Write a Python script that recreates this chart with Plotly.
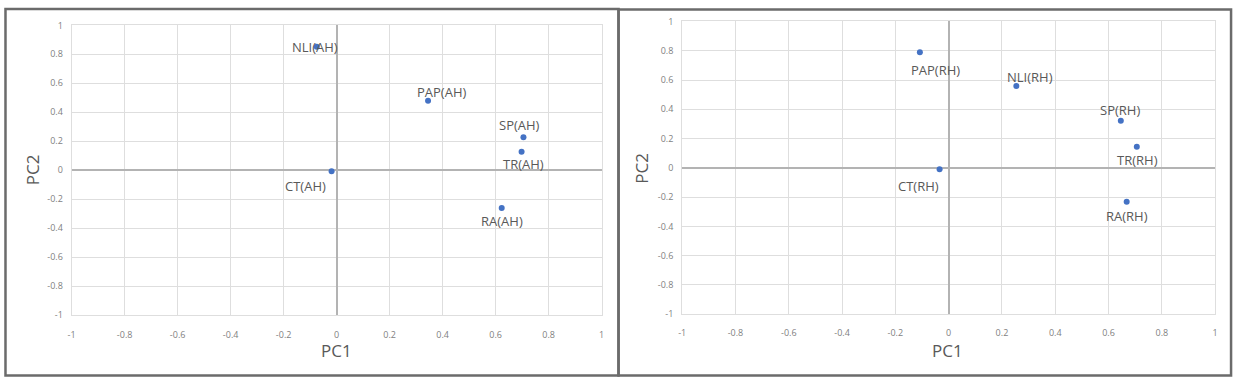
import plotly.graph_objects as go

# ---- data ----
ah_labels = ["NLI(AH)", "PAP(AH)", "SP(AH)", "TR(AH)", "CT(AH)", "RA(AH)"]
ah_pc1 = [-0.075, 0.345, 0.705, 0.698, -0.019, 0.623]
ah_pc2 = [0.853, 0.480, 0.227, 0.127, -0.007, -0.260]

rh_labels = ["PAP(RH)", "NLI(RH)", "SP(RH)", "TR(RH)", "CT(RH)", "RA(RH)"]
rh_pc1 = [-0.108, 0.254, 0.646, 0.706, -0.034, 0.668]
rh_pc2 = [0.790, 0.560, 0.322, 0.144, -0.010, -0.232]

tick_vals = [-1, -0.8, -0.6, -0.4, -0.2, 0, 0.2, 0.4, 0.6, 0.8, 1]
tick_text = ["-1", "-0.8", "-0.6", "-0.4", "-0.2", "0", "0.2", "0.4", "0.6", "0.8", "1"]

# label offsets (px) for each point: (dx, dy up)
ah_offsets = [(-2, 0), (14, 9), (-4, 12), (2, -12), (-26, -15), (0, -13)]
rh_offsets = [(16, -18), (14, 9), (-1, 11), (1, -13), (-21, -17), (0, -14)]

W, H = 1244, 383
MARKER = "#4472C4"
LABEL_C = "#595959"
TICK_C = "#7f7f7f"
GRID_C = "#dedede"
ZERO_C = "#b3b3b3"
FONT = "Open Sans"

fig = go.Figure()
fig.add_trace(go.Scatter(x=ah_pc1, y=ah_pc2, mode="markers", xaxis="x", yaxis="y",
                         marker=dict(color=MARKER, size=6), showlegend=False))
fig.add_trace(go.Scatter(x=rh_pc1, y=rh_pc2, mode="markers", xaxis="x2", yaxis="y2",
                         marker=dict(color=MARKER, size=6), showlegend=False))

def px_x(p):
    return p / W

def px_y(p):
    return 1 - p / H

ax_common = dict(range=[-1, 1], tickvals=tick_vals, ticktext=tick_text,
                 showgrid=True, gridcolor=GRID_C, gridwidth=1,
                 zeroline=True, zerolinecolor=ZERO_C, zerolinewidth=1.5,
                 showline=True, linecolor=GRID_C, linewidth=1, mirror=True,
                 ticks="", tickfont=dict(family=FONT, size=9, color=TICK_C),
                 fixedrange=True)

fig.update_layout(
    width=W, height=H,
    margin=dict(l=0, r=0, t=0, b=0),
    paper_bgcolor="white", plot_bgcolor="white",
    xaxis=dict(ax_common, domain=[px_x(68), px_x(601)], anchor="y", ticklabelstandoff=11),
    yaxis=dict(ax_common, domain=[px_y(319), px_y(19)], anchor="x", ticklabelstandoff=6),
    xaxis2=dict(ax_common, domain=[px_x(682), px_x(1218)], anchor="y2", ticklabelstandoff=10),
    yaxis2=dict(ax_common, domain=[px_y(318), px_y(15)], anchor="x2", ticklabelstandoff=6),
)

annotations = []
for lab, x, y, (dx, dy) in zip(ah_labels, ah_pc1, ah_pc2, ah_offsets):
    annotations.append(dict(x=x, y=y, xref="x", yref="y", text=lab, showarrow=False,
                            xshift=dx, yshift=dy, xanchor="center", yanchor="middle",
                            font=dict(family=FONT, size=13, color=LABEL_C)))
for lab, x, y, (dx, dy) in zip(rh_labels, rh_pc1, rh_pc2, rh_offsets):
    annotations.append(dict(x=x, y=y, xref="x2", yref="y2", text=lab, showarrow=False,
                            xshift=dx, yshift=dy, xanchor="center", yanchor="middle",
                            font=dict(family=FONT, size=13, color=LABEL_C)))

title_font = dict(family=FONT, size=17, color=LABEL_C)
t_common = dict(xref="paper", yref="paper", showarrow=False, font=title_font,
                xanchor="center", yanchor="middle")
annotations += [
    dict(t_common, text="PC1", x=px_x(334), y=px_y(356)),
    dict(t_common, text="PC2", x=px_x(28), y=px_y(168), textangle=-90),
    dict(t_common, text="PC1", x=px_x(949), y=px_y(356)),
    dict(t_common, text="PC2", x=px_x(641), y=px_y(167), textangle=-90),
]
fig.update_layout(annotations=annotations)

# panel frames
frame_c = "#6b6b6b"
shapes = [
    dict(type="rect", xref="paper", yref="paper", x0=px_x(1.5), x1=px_x(618), y0=px_y(381.5), y1=px_y(2),
         line=dict(color=frame_c, width=2.5)),
    dict(type="rect", xref="paper", yref="paper", x0=px_x(618), x1=px_x(1234), y0=px_y(381.5), y1=px_y(2.5),
         line=dict(color=frame_c, width=2.5)),
]
fig.update_layout(shapes=shapes)

fig.write_html("out.html")
